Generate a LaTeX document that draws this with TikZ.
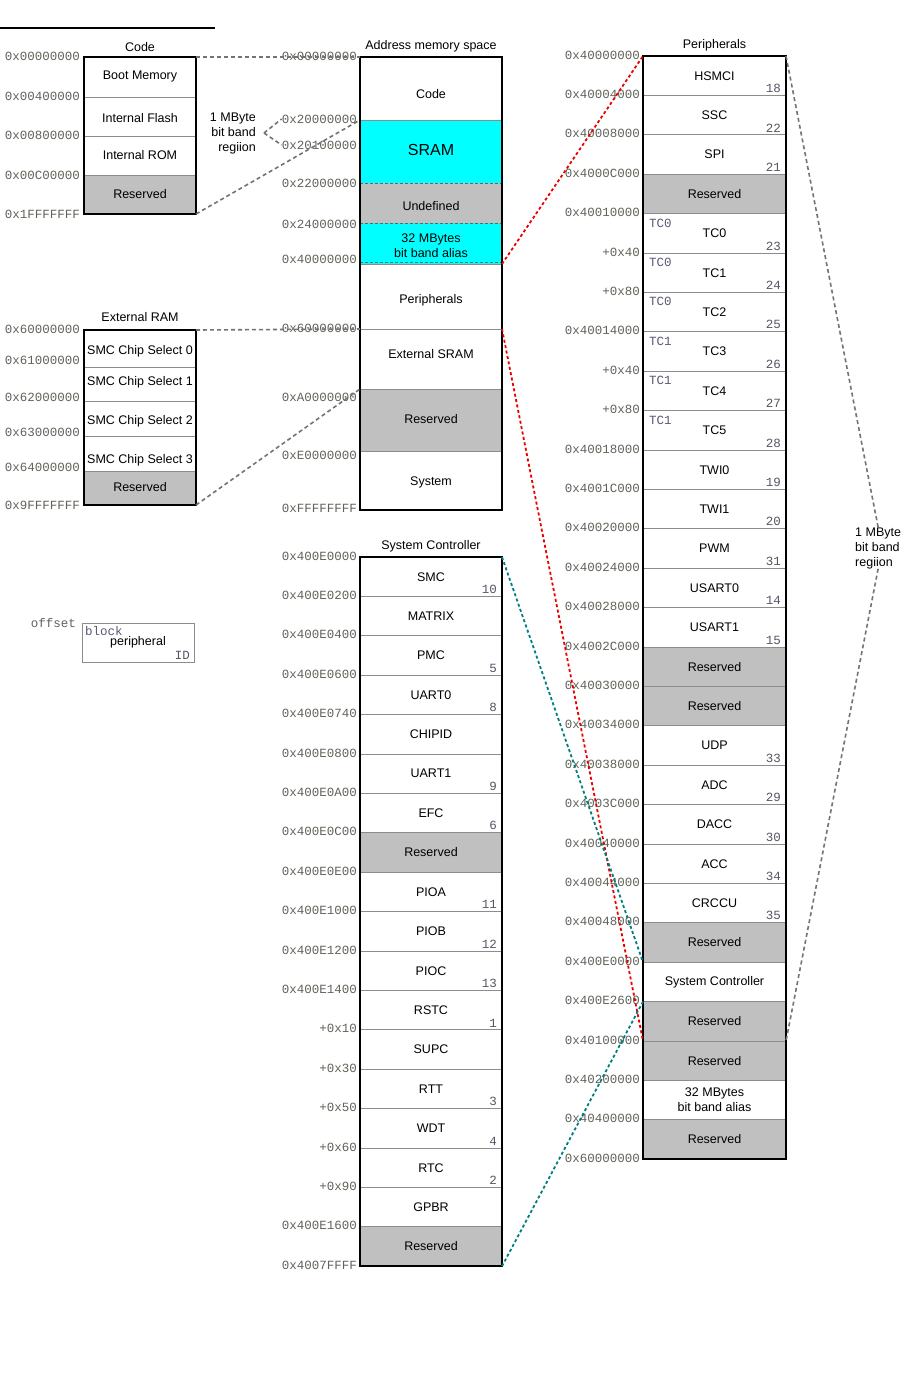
\documentclass[tikz,border=0pt]{standalone}
\usepackage{fontspec}
\setmainfont{Liberation Sans}
\setmonofont{Liberation Mono}
\usetikzlibrary{positioning}

\definecolor{addrcol}{RGB}{95,100,90}
\definecolor{idcol}{RGB}{85,85,100}
\definecolor{blkcol}{RGB}{95,85,115}
\definecolor{resvgray}{RGB}{192,192,192}
\definecolor{bbcyan}{RGB}{0,255,255}
\definecolor{redlink}{RGB}{235,0,0}
\definecolor{teallink}{RGB}{0,125,125}

\newcommand{\txtfont}{\fontsize{12.5}{15}\selectfont}
\newcommand{\addrfont}{\ttfamily\fontsize{12.5}{15}\selectfont}

\tikzset{
  mcell/.style={rectangle, inner sep=0pt, outer sep=0pt, minimum width=#1, align=center, font=\txtfont},
  whitecell/.style={fill=white},
  graycell/.style={fill=resvgray},
  cyancell/.style={fill=bbcyan},
  celltext/.style={font=\txtfont, align=center, inner sep=0pt},
  rowline/.style={draw=black!45, line width=0.8pt},
  dashrow/.style={draw=black!60, line width=0.8pt, dash pattern=on 3pt off 2pt},
  boxframe/.style={draw=black, line width=2.5pt},
  boxtitle/.style={font=\txtfont, inner sep=1pt},
  addr/.style={anchor=east, inner sep=0pt, font=\addrfont, text=addrcol},
  idnum/.style={anchor=south east, inner xsep=5pt, inner ysep=2.5pt, font=\addrfont, text=idcol},
  blk/.style={anchor=north west, inner xsep=6pt, inner ysep=5pt, font=\addrfont, text=blkcol},
  gray link/.style={draw=black!55, line width=1.6pt, dash pattern=on 4pt off 3pt},
  red link/.style={draw=redlink, line width=1.8pt, dash pattern=on 3pt off 2.5pt},
  teal link/.style={draw=teallink, line width=1.8pt, dash pattern=on 3pt off 2.5pt},
}

\begin{document}
\begin{tikzpicture}[x=1pt,y=-1pt]
  \path[use as bounding box, fill=white] (0,0) rectangle (907,1400);
  % rule at the top
  \draw[line width=2pt] (0,28) -- (215,28);

  % code region
  \foreach \ytop/\ybot/\txt/\kind/\dy [count=\i] in {57/97/Boot Memory/whitecell/1pt, 97/136/Internal Flash/whitecell/-2pt,
      136/175/Internal ROM/whitecell/0pt, 175/214/Reserved/graycell/0pt} {
    \node[mcell=112pt, \kind, minimum height={(\ybot-\ytop)*1pt}, anchor=north] (c\i) at (140,\ytop) {};
    \node[celltext] (ct\i) at ([yshift=\dy]c\i.center) {\txt};
    \draw[rowline] (c\i.north west) -- (c\i.north east);
  }
  \draw[boxframe] (c1.north west) rectangle (c4.south east);
  \node[boxtitle, above=4pt of c1] (codetitle) {Code};
  \foreach \y/\a [count=\i] in {56/0x00000000, 96/0x00400000, 135/0x00800000, 175/0x00C00000, 214/0x1FFFFFFF}
    \node[addr] (ca\i) at (80,\y) {\a};

  % external RAM
  \foreach \ytop/\ybot/\txt/\kind/\dy [count=\i] in {330/367/SMC Chip Select 0/whitecell/-3pt,
      367/401/SMC Chip Select 1/whitecell/2pt, 401/436/SMC Chip Select 2/whitecell/-3pt,
      436/471/SMC Chip Select 3/whitecell/-7pt, 471/505/Reserved/graycell/1pt} {
    \node[mcell=112pt, \kind, minimum height={(\ybot-\ytop)*1pt}, anchor=north] (e\i) at (140,\ytop) {};
    \node[celltext] (et\i) at ([yshift=\dy]e\i.center) {\txt};
    \draw[rowline] (e\i.north west) -- (e\i.north east);
  }
  \draw[boxframe] (e1.north west) rectangle (e5.south east);
  \node[boxtitle, above=7pt of e1] (extitle) {External RAM};
  \foreach \y/\a [count=\i] in {329/0x60000000, 360/0x61000000, 397/0x62000000, 432/0x63000000, 467/0x64000000, 505/0x9FFFFFFF}
    \node[addr] (ea\i) at (80,\y) {\a};

  % address memory space
  \foreach \ytop/\ybot/\txt/\kind/\sepl/\dy [count=\i] in {57/120/Code/whitecell/rowline/-6pt,
      120/183/{\fontsize{16}{19}\selectfont SRAM}/cyancell/rowline/2pt,
      183/223/Undefined/graycell/dashrow/-3pt, 223/264/{32 MBytes\\bit band alias}/cyancell/dashrow/-2pt,
      264/329/Peripherals/whitecell/rowline/-4pt, 329/389/External SRAM/whitecell/rowline/5pt,
      389/451/Reserved/graycell/rowline/1pt, 451/510/System/whitecell/rowline/-2pt} {
    \node[mcell=142pt, \kind, minimum height={(\ybot-\ytop)*1pt}, anchor=north] (m\i) at (431,\ytop) {};
    \node[celltext] (mt\i) at ([yshift=\dy]m\i.center) {\txt};
    \draw[\sepl] (m\i.north west) -- (m\i.north east);
  }
  \draw[dashrow] ([yshift=1.5pt]m4.south west) -- ([yshift=1.5pt]m4.south east);
  \draw[boxframe] (m1.north west) rectangle (m8.south east);
  \node[boxtitle, above=4pt of m1] (maptitle) {Address memory space};
  \foreach \y/\a [count=\i] in {56/0x00000000, 119/0x20000000, 145/0x20100000, 183/0x22000000, 224/0x24000000,
      259/0x40000000, 328/0x60000000, 397/0xA0000000, 455/0xE0000000, 508/0xFFFFFFFF}
    \node[addr] (ma\i) at (357,\y) {\a};

  % bit band region of the SRAM
  \node[font=\txtfont, align=right, anchor=east, inner sep=0pt] (bbleft) at (256,133) {1 MByte\\bit band\\regiion};
  \coordinate[right=8pt of bbleft] (bbtip);
  \draw[gray link] (bbtip) -- (ma2.west);
  \draw[gray link] (bbtip) -- (ma3.west);

  % system controller
  \foreach \name/\id/\kind [count=\i] in {SMC/10/whitecell, MATRIX/{}/whitecell, PMC/5/whitecell, UART0/8/whitecell,
      CHIPID/{}/whitecell, UART1/9/whitecell, EFC/6/whitecell, Reserved/{}/graycell, PIOA/11/whitecell,
      PIOB/12/whitecell, PIOC/13/whitecell, RSTC/1/whitecell, SUPC/{}/whitecell, RTT/3/whitecell,
      WDT/4/whitecell, RTC/2/whitecell, GPBR/{}/whitecell, Reserved/{}/graycell} {
    \node[mcell=142pt, \kind, minimum height=39.4pt] (s\i) at (431,{557+(\i-0.5)*39.4}) {\name};
    \draw[rowline] (s\i.north west) -- (s\i.north east);
    \node[idnum] (sid\i) at (s\i.south east) {\id};
  }
  \draw[boxframe] (s1.north west) rectangle (s18.south east);
  \node[boxtitle, above=4pt of s1] (systitle) {System Controller};
  \foreach \a [count=\i] in {0x400E0000, 0x400E0200, 0x400E0400, 0x400E0600, 0x400E0740, 0x400E0800, 0x400E0A00,
      0x400E0C00, 0x400E0E00, 0x400E1000, 0x400E1200, 0x400E1400, +0x10, +0x30, +0x50, +0x60, +0x90,
      0x400E1600, 0x4007FFFF}
    \node[addr] (sa\i) at (357,{557+(\i-1)*39.4-1}) {\a};

  % peripherals
  \foreach \name/\id/\kind [count=\i] in {HSMCI/18/whitecell, SSC/22/whitecell, SPI/21/whitecell, Reserved/{}/graycell,
      TC0/23/whitecell, TC1/24/whitecell, TC2/25/whitecell, TC3/26/whitecell, TC4/27/whitecell, TC5/28/whitecell,
      TWI0/19/whitecell, TWI1/20/whitecell, PWM/31/whitecell, USART0/14/whitecell, USART1/15/whitecell,
      Reserved/{}/graycell, Reserved/{}/graycell, UDP/33/whitecell, ADC/29/whitecell, DACC/30/whitecell,
      ACC/34/whitecell, CRCCU/35/whitecell, Reserved/{}/graycell, System Controller/{}/whitecell,
      Reserved/{}/graycell, Reserved/{}/graycell, {32 MBytes\\bit band alias}/{}/whitecell, Reserved/{}/graycell} {
    \node[mcell=143pt, \kind, minimum height=39.4pt] (p\i) at (714.5,{56+(\i-0.5)*39.4}) {\name};
    \draw[rowline] (p\i.north west) -- (p\i.north east);
    \node[idnum] (pid\i) at (p\i.south east) {\id};
  }
  \foreach \i/\blkname in {5/TC0, 6/TC0, 7/TC0, 8/TC1, 9/TC1, 10/TC1}
    \node[blk] (tcb\i) at (p\i.north west) {\blkname};
  \draw[boxframe] (p1.north west) rectangle (p28.south east);
  \node[boxtitle, above=4pt of p1] (pertitle) {Peripherals};
  \foreach \a [count=\i] in {0x40000000, 0x40004000, 0x40008000, 0x4000C000, 0x40010000, +0x40, +0x80,
      0x40014000, +0x40, +0x80, 0x40018000, 0x4001C000, 0x40020000, 0x40024000, 0x40028000, 0x4002C000,
      0x40030000, 0x40034000, 0x40038000, 0x4003C000, 0x40040000, 0x40044000, 0x40048000, 0x400E0000,
      0x400E2600, 0x40100000, 0x40200000, 0x40400000, 0x60000000}
    \node[addr] (pa\i) at (640,{56+(\i-1)*39.4-1}) {\a};

  % bit band region of the peripherals
  \node[font=\txtfont, align=left, anchor=west, inner sep=0pt] (bbright) at (855,548) {1 MByte\\bit band\\regiion};
  \draw[gray link] (p1.north east) -- (bbright.north);
  \draw[gray link] (bbright.south) -- (p25.south east);

  % legend
  \node[mcell=112pt, minimum height=39pt, draw=black!45, line width=0.8pt, anchor=north west] (lgd) at (82,623) {peripheral};
  \node[blk, inner xsep=3pt, inner ysep=3pt] (lgdblk) at (lgd.north west) {block};
  \node[idnum, inner xsep=4pt, inner ysep=2pt] (lgdid) at (lgd.south east) {ID};
  \node[addr] (lgdoff) at (76,623) {offset};

  % links between the maps
  \draw[gray link] (c1.north east) -- (m1.north west);
  \draw[gray link] (c4.south east) -- (m2.north west);
  \draw[gray link] (e1.north east) -- (m6.north west);
  \draw[gray link] (e5.south east) -- (m7.north west);
  \draw[red link] (m4.south east) -- (p1.north west);
  \draw[red link] (m5.south east) -- (p25.south west);
  \draw[teal link] (s1.north east) -- (p23.south west);
  \draw[teal link] (s18.south east) -- (p24.south west);
\end{tikzpicture}
\end{document}
